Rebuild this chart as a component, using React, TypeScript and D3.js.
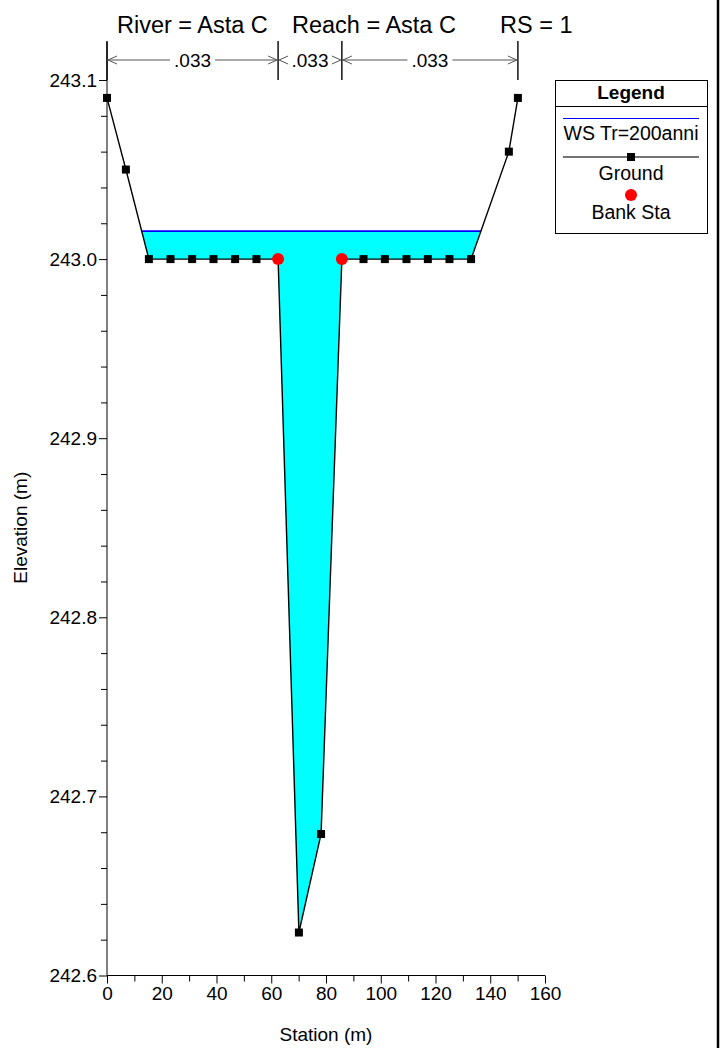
import React, { useRef, useEffect } from 'react';
import * as d3 from 'd3';

// ground profile (station m, elevation m)
const groundStation = [0, 6.9, 15.3, 23.2, 31.1, 38.9, 46.8, 54.6, 62.5, 70.1, 78.2, 85.8, 93.7, 101.5, 109.4, 117.2, 125.1, 133.0, 146.8, 150.1];
const groundElev = [243.09, 243.05, 243.0, 243.0, 243.0, 243.0, 243.0, 243.0, 243.0, 242.624, 242.679, 243.0, 243.0, 243.0, 243.0, 243.0, 243.0, 243.0, 243.06, 243.09];
const bankStation = [62.5, 85.8];
const bankElev = [243.0, 243.0];
const wsElev = 243.0156;
const manningN = ['.033', '.033', '.033'];
const manningBreaks = [0, 62.5, 85.8, 150.1];
const xTicks = [0, 20, 40, 60, 80, 100, 120, 140, 160];
const yTicks = [242.6, 242.7, 242.8, 242.9, 243.0, 243.1];
const titleParts = ['River = Asta C', 'Reach = Asta C', 'RS = 1'];
const legendLabels = ['WS Tr=200anni', 'Ground', 'Bank Sta'];

export default function App(): JSX.Element {
  const svgRef = useRef<SVGSVGElement>(null);
  useEffect(() => {
    const el = svgRef.current;
    if (el == null) return;
    const svg = d3.select(el);
    svg.selectAll('*').remove();
    const font = 'Liberation Sans, Arial, sans-serif';
    const fs = 19;

    const x = d3.scaleLinear().domain([0, 160]).range([107, 545]);
    const y = d3.scaleLinear().domain([242.6, 243.1]).range([975.5, 80]);

    const pts: [number, number][] = groundStation.map((s, i) => [s, groundElev[i]]);

    // water polygon: clip ground below ws
    const wsPts: [number, number][] = [];
    for (let i = 0; i < pts.length - 1; i++) {
      const [s0, e0] = pts[i];
      const [s1, e1] = pts[i + 1];
      if (e0 <= wsElev) wsPts.push([s0, e0]);
      if ((e0 - wsElev) * (e1 - wsElev) < 0) {
        const t = (wsElev - e0) / (e1 - e0);
        wsPts.push([s0 + t * (s1 - s0), wsElev]);
      }
    }
    const last = pts[pts.length - 1];
    if (last[1] <= wsElev) wsPts.push(last);
    const wsLeft = wsPts[0][0];
    const wsRight = wsPts[wsPts.length - 1][0];

    const line = d3.line<[number, number]>().x((d) => x(d[0])).y((d) => y(d[1]));

    svg.append('path').attr('d', line(wsPts) + 'Z').attr('fill', '#00ffff').attr('stroke', 'none');
    svg.append('line')
      .attr('x1', x(wsLeft)).attr('x2', x(wsRight))
      .attr('y1', y(wsElev)).attr('y2', y(wsElev))
      .attr('stroke', '#0000ff').attr('stroke-width', 1.6);

    svg.append('path').attr('d', line(pts)).attr('fill', 'none').attr('stroke', '#000').attr('stroke-width', 1.4);
    svg.selectAll('rect.gm').data(pts).join('rect').attr('class', 'gm')
      .attr('x', (d) => x(d[0]) - 4).attr('y', (d) => y(d[1]) - 4)
      .attr('width', 8).attr('height', 8).attr('fill', '#000');
    svg.selectAll('circle.bk').data(bankStation).join('circle').attr('class', 'bk')
      .attr('cx', (d) => x(d)).attr('cy', (d, i) => y(bankElev[i]))
      .attr('r', 6).attr('fill', '#ff0000');

    // axes
    const isMajorY = (d: number) => yTicks.some((t) => Math.abs(t - d) < 1e-6);
    const yAxis = d3.axisLeft(y).tickValues(d3.range(242.6, 243.1001, 0.02)).tickSize(6)
      .tickFormat((d) => (isMajorY(d as number) ? d3.format('.1f')(d as number) : ''));
    const gy = svg.append('g').attr('transform', 'translate(107,0)').call(yAxis);
    gy.selectAll('.tick').filter((d) => isMajorY(d as number)).select('line').attr('x2', -8);
    gy.select('.domain').attr('d', `M0,${y(242.6)}V42`);
    gy.selectAll('text').attr('font-size', fs).attr('font-family', font).attr('fill', '#000').attr('x', -10);

    const xAxis = d3.axisBottom(x).tickValues(d3.range(0, 161, 10)).tickSize(6)
      .tickFormat((d) => (xTicks.includes(d as number) ? String(d) : ''));
    const gx = svg.append('g').attr('transform', `translate(0,${y(242.6)})`).call(xAxis);
    gx.selectAll('.tick').filter((d) => xTicks.includes(d as number)).select('line').attr('y2', 8);
    gx.select('.domain').attr('d', `M${x(0)},0H${x(160)}`);
    gx.selectAll('text').attr('font-size', fs).attr('font-family', font).attr('fill', '#000').attr('y', 11);

    // axis titles
    svg.append('text').attr('x', 326).attr('y', 1041).attr('text-anchor', 'middle')
      .attr('font-family', font).attr('font-size', fs).text('Station (m)');
    svg.append('text').attr('transform', `translate(27,${y(242.85)}) rotate(-90)`).attr('text-anchor', 'middle')
      .attr('font-family', font).attr('font-size', fs).text('Elevation (m)');

    // title
    const titleX = [117, 292, 500];
    titleParts.forEach((t, i) => {
      svg.append('text').attr('x', titleX[i]).attr('y', 33).attr('font-family', font).attr('font-size', 23.5).text(t);
    });

    // manning n
    const my = 60;
    manningBreaks.forEach((b) => {
      svg.append('line').attr('x1', x(b)).attr('x2', x(b)).attr('y1', 41).attr('y2', 80)
        .attr('stroke', '#000').attr('stroke-width', 1.4);
    });
    const arrowHead = (px: number, dir: number) =>
      `M${px + dir * 9},${my - 4}L${px},${my}L${px + dir * 9},${my + 4}`;
    manningN.forEach((n, i) => {
      const a = x(manningBreaks[i]);
      const b = x(manningBreaks[i + 1]);
      const mid = (a + b) / 2;
      const t = svg.append('text').attr('x', mid).attr('y', my + 7).attr('text-anchor', 'middle')
        .attr('font-family', font).attr('font-size', fs).text(n);
      const w = (t.node() as SVGTextElement).getComputedTextLength() / 2 + 4;
      if (mid - w > a + 12) {
        svg.append('line').attr('x1', a).attr('x2', mid - w).attr('y1', my).attr('y2', my).attr('stroke', '#555');
        svg.append('line').attr('x1', mid + w).attr('x2', b).attr('y1', my).attr('y2', my).attr('stroke', '#555');
      }
      svg.append('path').attr('d', arrowHead(a + 1, 1)).attr('fill', 'none').attr('stroke', '#555');
      svg.append('path').attr('d', arrowHead(b - 1, -1)).attr('fill', 'none').attr('stroke', '#555');
    });

    // legend
    const lg = svg.append('g');
    lg.append('rect').attr('x', 555.5).attr('y', 80.5).attr('width', 152).attr('height', 153)
      .attr('fill', '#fff').attr('stroke', '#000');
    lg.append('line').attr('x1', 555.5).attr('x2', 707.5).attr('y1', 106.5).attr('y2', 106.5).attr('stroke', '#000');
    lg.append('text').attr('x', 631).attr('y', 99).attr('text-anchor', 'middle').attr('font-family', font)
      .attr('font-size', 19).attr('font-weight', 'bold').text('Legend');
    lg.append('line').attr('x1', 563).attr('x2', 699).attr('y1', 118.5).attr('y2', 118.5).attr('stroke', '#0000ff').attr('stroke-width', 1.2);
    lg.append('line').attr('x1', 563).attr('x2', 699).attr('y1', 157).attr('y2', 157).attr('stroke', '#444').attr('stroke-width', 1.4);
    lg.append('rect').attr('x', 627).attr('y', 153).attr('width', 8).attr('height', 8).attr('fill', '#000');
    lg.append('circle').attr('cx', 631).attr('cy', 195).attr('r', 6).attr('fill', '#ff0000');
    const ly = [140, 180, 219];
    legendLabels.forEach((l, i) => {
      lg.append('text').attr('x', 631).attr('y', ly[i]).attr('text-anchor', 'middle')
        .attr('font-family', font).attr('font-size', 19.5).text(l);
    });

    // right border
    svg.append('line').attr('x1', 718).attr('x2', 718).attr('y1', 0).attr('y2', 1048)
      .attr('stroke', '#000').attr('stroke-width', 2.5);
  }, []);
  return (
    <div style={{ position: 'fixed', left: 0, top: 0, width: 723, height: 1048, background: '#fff' }}>
      <svg ref={svgRef} width={723} height={1048} />
    </div>
  );
}
